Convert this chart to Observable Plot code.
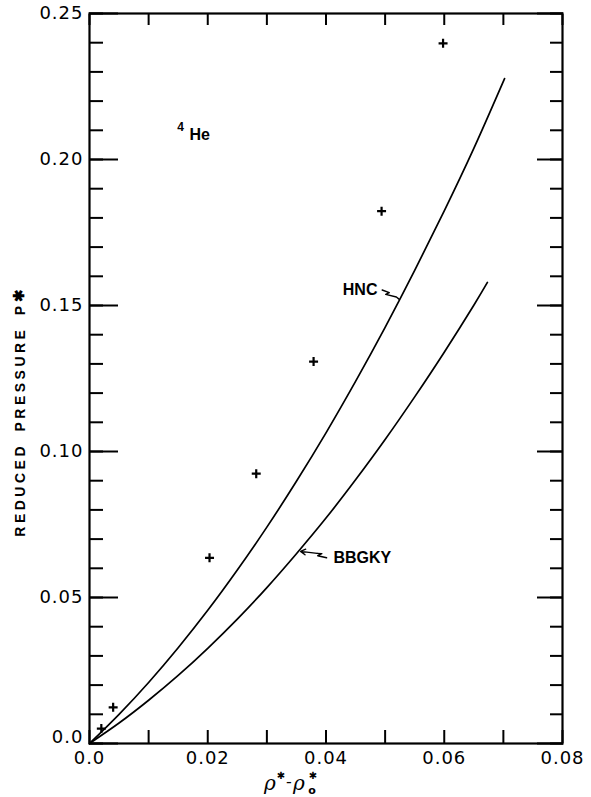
<!DOCTYPE html>
<html><head><meta charset="utf-8">
<script src="https://cdn.jsdelivr.net/npm/d3@7"></script>
<script src="https://cdn.jsdelivr.net/npm/@observablehq/plot@0.6"></script>
<style>
body{margin:0;background:#fff} svg{display:block}
g[aria-label="y-axis tick label"] text, g[aria-label="x-axis tick label"] text {font-size:18px; letter-spacing:1px; font-family:"DejaVu Sans";}
</style>
</head><body><div id="chart"></div>
<script>
// HNC curve
const xHNC = [0, 0.005, 0.010, 0.015, 0.020, 0.025, 0.030, 0.035, 0.040, 0.045, 0.050, 0.055, 0.060, 0.065, 0.0702];
const yHNC = [0, 0.0100, 0.0209, 0.0328, 0.0456, 0.0594, 0.0741, 0.0898, 0.1064, 0.1240, 0.1425, 0.1620, 0.1824, 0.2038, 0.2277];
// BBGKY curve
const xBBGKY = [0, 0.005, 0.010, 0.015, 0.020, 0.025, 0.030, 0.035, 0.040, 0.045, 0.050, 0.055, 0.060, 0.065, 0.0673];
const yBBGKY = [0, 0.0070, 0.0148, 0.0233, 0.0326, 0.0426, 0.0534, 0.0650, 0.0772, 0.0903, 0.1041, 0.1187, 0.1340, 0.1501, 0.1579];
// experimental points (+)
const xExp = [0.0020, 0.0040, 0.0203, 0.0282, 0.0379, 0.0494, 0.0598];
const yExp = [0.0051, 0.0124, 0.0636, 0.0924, 0.1308, 0.1823, 0.2398];
// ticks
const xMinor = [0, 0.01, 0.02, 0.03, 0.04, 0.05, 0.06, 0.07, 0.08];
const xMajor = [0, 0.02, 0.04, 0.06, 0.08];
const xTickLabels = ["0.0", "0.02", "0.04", "0.06", "0.08"];
const yMinor = [0, 0.01, 0.02, 0.03, 0.04, 0.05, 0.06, 0.07, 0.08, 0.09, 0.10, 0.11, 0.12, 0.13, 0.14, 0.15, 0.16, 0.17, 0.18, 0.19, 0.20, 0.21, 0.22, 0.23, 0.24, 0.25];
const yMajor = [0, 0.05, 0.10, 0.15, 0.20, 0.25];
const yTickLabels = ["0.0", "0.05", "0.10", "0.15", "0.20", "0.25"];
// annotations (data coordinates)
const hncLeaderX = [0.0495, 0.0507, 0.0501, 0.0519, 0.0524];
const hncLeaderY = [0.1553, 0.1544, 0.1538, 0.1529, 0.1521];
const bbLeaderX = [0.0385, 0.0393, 0.0386, 0.0401];
const bbLeaderY = [0.0651, 0.0650, 0.0643, 0.0636];
const bbArrowTip = {x: 0.0357, y: 0.0658};

const zip = (xs, ys) => xs.map((x, i) => ({x, y: ys[i]}));
const hnc = zip(xHNC, yHNC), bbgky = zip(xBBGKY, yBBGKY), exp = zip(xExp, yExp);

const tickFmtY = d => yTickLabels[yMajor.indexOf(d)];
const tickFmtX = d => xTickLabels[xMajor.indexOf(d)];
const blank = () => "";

const chart = Plot.plot({
  width: 591, height: 797,
  marginLeft: 89, marginRight: 29, marginTop: 13, marginBottom: 54,
  x: {domain: [0, 0.08]},
  y: {domain: [0, 0.25]},
  style: {fontFamily: "DejaVu Sans", fontSize: "16px", color: "#000", background: "#fff", overflow: "visible"},
  marks: [
    Plot.axisY({ticks: yMinor, anchor: "left", tickSize: -14, tickFormat: blank, label: null, strokeWidth: 2}),
    Plot.axisY({ticks: yMajor, anchor: "left", tickSize: -29, tickFormat: blank, label: null, strokeWidth: 2}),
    Plot.axisY({ticks: yMinor, anchor: "right", tickSize: -13, tickFormat: blank, label: null, strokeWidth: 2}),
    Plot.axisY({ticks: yMajor, anchor: "right", tickSize: -26, tickFormat: blank, label: null, strokeWidth: 2}),
    Plot.axisY({ticks: yMajor, anchor: "left", tickSize: 0, tickPadding: 6, tickFormat: tickFmtY, label: null}),
    Plot.axisX({ticks: xMinor, anchor: "bottom", tickSize: -13, tickFormat: blank, label: null, strokeWidth: 2}),
    Plot.axisX({ticks: xMinor, anchor: "top", tickSize: -11, tickFormat: blank, label: null, strokeWidth: 2}),
    Plot.axisX({ticks: xMajor, anchor: "bottom", tickSize: 0, tickPadding: 8, tickFormat: tickFmtX, label: null}),
    Plot.frame({stroke: "#000", strokeWidth: 2.2}),
    Plot.line(hnc, {x: "x", y: "y", stroke: "#000", strokeWidth: 1.7, curve: "natural"}),
    Plot.line(bbgky, {x: "x", y: "y", stroke: "#000", strokeWidth: 1.7, curve: "natural"}),
    Plot.dot(exp, {x: "x", y: "y", symbol: "plus", r: 3, stroke: "#000", strokeWidth: 2.2}),
    Plot.line(zip(hncLeaderX, hncLeaderY), {x: "x", y: "y", stroke: "#000", strokeWidth: 1.4}),
    Plot.line(zip(bbLeaderX, bbLeaderY), {x: "x", y: "y", stroke: "#000", strokeWidth: 1.4}),
    Plot.arrow([{x1: bbLeaderX[0], y1: bbLeaderY[0], x2: bbArrowTip.x, y2: bbArrowTip.y}],
      {x1: "x1", y1: "y1", x2: "x2", y2: "y2", stroke: "#000", strokeWidth: 1.4, headLength: 6, inset: 0}),
    Plot.text(["HNC"], {x: 0.0487, y: 0.1553, text: d => d, textAnchor: "end", fontFamily: "Liberation Sans", fontWeight: "bold", fontSize: 16}),
    Plot.text(["BBGKY"], {x: 0.04127, y: 0.0637, text: d => d, textAnchor: "start", fontFamily: "Liberation Sans", fontWeight: "bold", fontSize: 16, letterSpacing: 0.5}),
    Plot.text(["He"], {x: 0.01691, y: 0.2084, text: d => d, textAnchor: "start", fontFamily: "Liberation Sans", fontWeight: "bold", fontSize: 16}),
    Plot.text(["4"], {x: 0.01539, y: 0.2112, text: d => d, textAnchor: "middle", fontFamily: "Liberation Sans", fontWeight: "bold", fontSize: 12})
  ]
});
document.getElementById("chart").appendChild(chart);

const svg = d3.select(chart);
// lift the y-axis "0.0" label a little, as in the reference
svg.selectAll('g[aria-label="y-axis tick label"] text')
  .filter(function() { return this.textContent === "0.0"; })
  .each(function() { this.setAttribute("transform", (this.getAttribute("transform") || "") + " translate(0,-6)"); });

// axis titles with super/subscripts
const yl = svg.append("text")
  .attr("transform", "translate(25,413) rotate(-90)")
  .attr("text-anchor", "middle")
  .attr("font-family", "Liberation Sans").attr("font-weight", "bold").attr("font-size", 14)
  .attr("letter-spacing", 3.5).attr("word-spacing", 4).attr("fill", "#000");
yl.append("tspan").text("REDUCED PRESSURE P");
yl.append("tspan").attr("font-size", 15).attr("dy", -1).attr("letter-spacing", 0).text("✱");

const xl = svg.append("g").attr("fill", "#000");
xl.append("text").attr("x", 270).attr("y", 790).attr("font-family", "DejaVu Serif").attr("font-style", "italic").attr("font-size", 20).text("ρ");
xl.append("text").attr("x", 281).attr("y", 779).attr("font-family", "DejaVu Sans").attr("font-weight", "bold").attr("font-size", 10).text("✱");
xl.append("text").attr("x", 289).attr("y", 787).attr("font-family", "DejaVu Sans").attr("font-size", 16).text("-");
xl.append("text").attr("x", 299).attr("y", 790).attr("font-family", "DejaVu Serif").attr("font-style", "italic").attr("font-size", 20).text("ρ");
xl.append("text").attr("x", 313).attr("y", 779).attr("font-family", "DejaVu Sans").attr("font-weight", "bold").attr("font-size", 10).text("✱");
xl.append("text").attr("x", 312).attr("y", 794).attr("font-family", "DejaVu Sans").attr("font-weight", "bold").attr("font-size", 11).text("o");
</script>
</body></html>
